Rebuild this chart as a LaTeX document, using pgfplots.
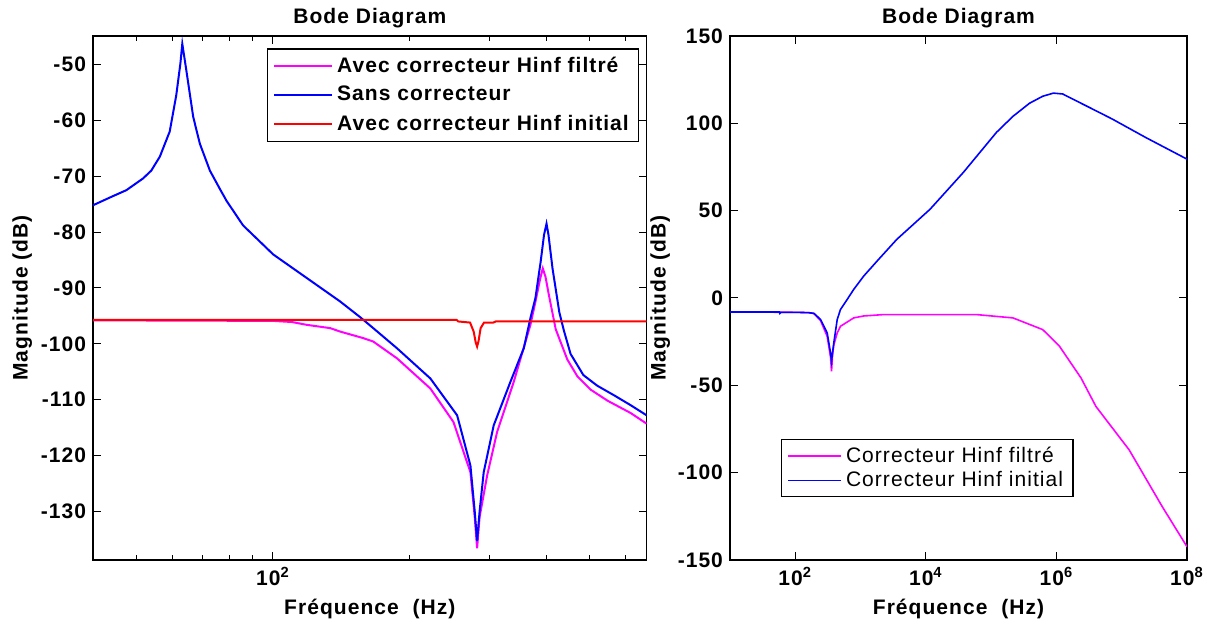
\documentclass[border=0pt]{standalone}
\usepackage{fontspec}
\setmainfont{Liberation Sans}[LetterSpace=5]
\usepackage{pgfplots}
\pgfplotsset{compat=1.18}
\definecolor{mmag}{RGB}{255,0,255}
\definecolor{mblue}{RGB}{0,0,255}
\definecolor{mred}{RGB}{255,0,0}
\newcommand{\lf}{\fontsize{10.5}{12}\selectfont\bfseries}
\pgfplotsset{
  mystyle/.style={
    scale only axis,
    font=\lf,
    tick label style={font=\lf},
    /pgf/number format/assume math mode=true,
    axis line style={line width=0.6pt},
    every tick/.style={black, line width=0.5pt},
    major tick length=4pt,
    minor tick length=2.5pt,
    title style={font=\lf, yshift=-5.5pt},
    label style={font=\lf},
    legend cell align=left,
  }
}
\begin{document}
\begin{tikzpicture}
\useasboundingbox (0pt,0pt) rectangle (603.5pt,-312pt);
\begin{axis}[mystyle, xmode=log,
  at={(46.5pt,-18pt)}, anchor=north west,
  width=276.8pt, height=262pt,
  xmin=40.1, xmax=666.6, ymin=-138.7, ymax=-44.9,
  xtick={100}, xticklabels={10\textsuperscript{2}},
  minor xtick={50,60,70,80,90,200,300,400,500,600},
  ytick={-130,-120,...,-50},
  title={Bode Diagram},
  xlabel={Fréquence\ \ (Hz)}, ylabel={Magnitude (dB)},
  ylabel style={yshift=-2.5pt},
  legend style={at={(0.987,0.9765)}, anchor=north east, draw=black, line width=0.6pt,
    font=\lf, inner xsep=3pt, inner ysep=2pt, row sep=1.5pt},
  legend image code/.code={\draw[#1, line width=0.7pt] (0pt,0pt) -- (29pt,0pt);},
]
\addplot[mmag, line width=1pt] coordinates {
(40.1,-95.8) (100,-95.9) (110,-96.1) (118.6,-96.6) (133.8,-97.2) (140.5,-97.8)
(158.4,-99.0) (166.4,-99.6) (187.7,-102.6) (222.3,-108.0) (250.0,-114.0)
(272.5,-123.0) (278.5,-131) (281.9,-136.6) (285.5,-131) (296.6,-123.6)
(312.0,-115.8) (339.6,-106.8) (369.6,-96.6) (379.0,-92.5) (388,-88.5)
(393.6,-86.5) (399,-88) (405.9,-91.3) (420.2,-97.4) (445.6,-102.8)
(468.8,-105.8) (501.5,-108.2) (547.0,-110.2) (615.0,-112.4) (666.6,-114.3)
};
\addlegendentry{Avec correcteur Hinf filtré}
\addplot[mblue, line width=1pt] coordinates {
(40.1,-75.2) (44,-73.7) (47.5,-72.5) (51.7,-70.4) (53.9,-69.0) (56.3,-66.5)
(59.2,-62.0) (61.2,-55.5) (62.5,-49.8) (63.1,-46.3) (64.4,-51.0) (66.7,-59.4)
(69.0,-64.2) (72.6,-69.0) (76.4,-72.3) (79.0,-74.4) (85.9,-78.8) (100.1,-84.0)
(118.6,-88.2) (140.5,-92.4) (155.5,-95.2) (166.4,-97.2) (187.7,-100.8)
(222.3,-106.2) (254.7,-112.8) (272.5,-121.8) (278.5,-130.0) (281.9,-135.3)
(285.5,-130.0) (291.5,-123.0) (306.7,-114.6) (333.9,-106.8) (357.3,-100.8)
(369.6,-95.4) (379.1,-91.8) (389.3,-85.3) (396.0,-80.5) (401.0,-78.5)
(405.0,-80.5) (413.4,-86.5) (428.0,-94.4) (437.9,-97.6) (453.0,-101.8)
(483.5,-105.6) (518.8,-107.5) (564.5,-109.2) (615.0,-111.0) (666.6,-112.8)
};
\addlegendentry{Sans correcteur}
\addplot[mred, line width=1pt] coordinates {
(40.1,-95.7) (254,-95.7) (256,-96.0) (272,-96.2) (277,-97.8) (280,-99.8)
(281.9,-100.5) (284,-99.5) (287,-97.2) (292,-96.2) (306,-96.2) (310,-96.0)
(666.6,-96.0)
};
\addlegendentry{Avec correcteur Hinf initial}
\end{axis}

\begin{axis}[mystyle, xmode=log,
  at={(365pt,-18pt)}, anchor=north west,
  width=228.5pt, height=262pt,
  xmin=10, xmax=1e8, ymin=-150, ymax=150,
  xtick={1e2,1e4,1e6,1e8},
  xticklabels={10\textsuperscript{2},10\textsuperscript{4},10\textsuperscript{6},10\textsuperscript{8}},
  xminorticks=false,
  ytick={-150,-100,...,150},
  title={Bode Diagram},
  xlabel={Fréquence\ \ (Hz)}, ylabel={Magnitude (dB)},
  ylabel style={yshift=-3pt},
  legend style={at={(0.1116,0.2308)}, anchor=north west, draw=black, line width=0.6pt,
    font=\fontsize{10.5}{12}\selectfont\mdseries, inner xsep=3pt, inner ysep=1.5pt, row sep=-1pt},
  legend image code/.code={\draw[#1, line width=0.7pt] (0pt,0pt) -- (26.5pt,0pt);},
]
\addplot[mmag, line width=0.8pt] coordinates {
(10,-8.0) (100,-8.2) (160,-8.4) (193,-8.9) (244,-13.0) (308,-22.0) (347,-34.0)
(359,-42.0) (372,-33) (389,-27.0) (439,-20.0) (492,-16.2) (785,-11.4)
(1114,-10.3) (2249,-9.5) (59700,-9.5) (215800,-11.4) (616600,-18.1)
(1112000,-27.6) (2382000,-45.8) (4027000,-62.1) (12970000,-86.9)
(41690000,-119.4) (100000000,-142.4)
};
\addlegendentry{Correcteur Hinf filtré}
\addplot[mblue, line width=0.8pt] coordinates {
(10,-8.0) (57,-8.0) (58,-8.8) (60,-8.2) (100,-8.2) (160,-8.4) (193,-8.8)
(244,-12.3) (308,-20.0) (347,-31.5) (359,-36.2) (370,-32) (389,-25.7)
(439,-12.3) (492,-6.6) (622,-0.9) (785,4.9) (1114,12.5) (1786,21.1)
(3597,33.6) (11590,50.8) (37330,71.8) (120500,94.8) (215800,104.0)
(387300,111.5) (616600,115.5) (900000,117.3) (1247000,116.8) (2239000,112.0)
(4027000,107.2) (7211000,102.4) (23280000,91.9) (100000000,79.5)
};
\addlegendentry{Correcteur Hinf initial}
\end{axis}
\end{tikzpicture}
\end{document}
